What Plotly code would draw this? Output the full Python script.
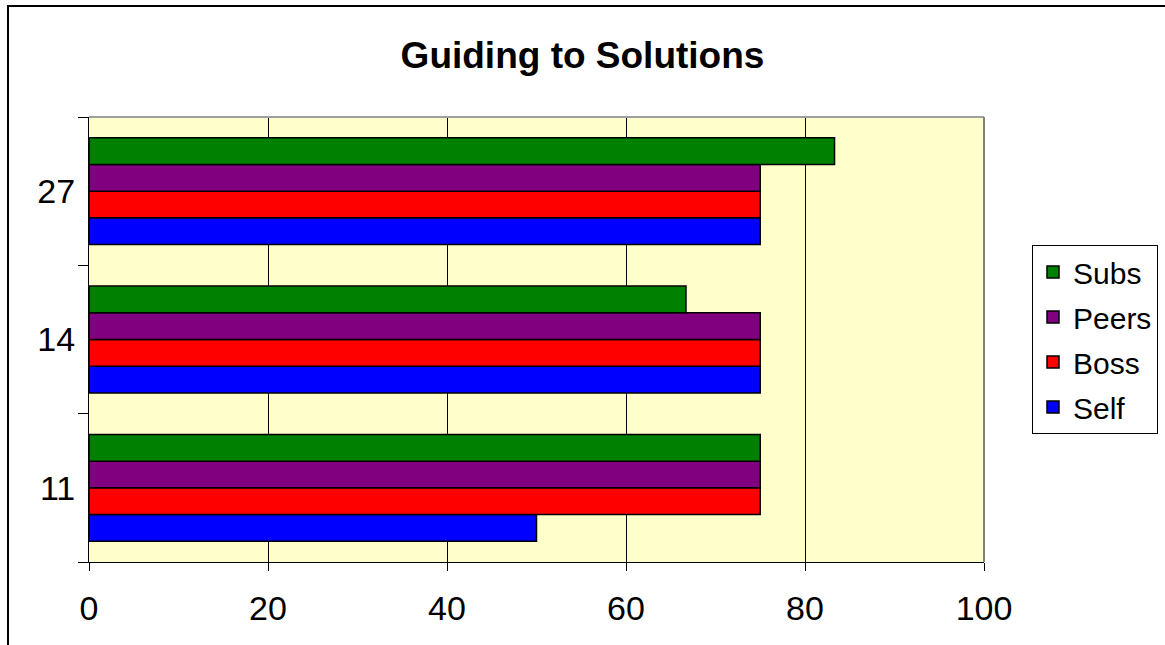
import plotly.graph_objects as go

categories = ["11", "14", "27"]
series_names = ["Self", "Boss", "Peers", "Subs"]
self_vals = [50, 75, 75]
boss_vals = [75, 75, 75]
peers_vals = [75, 75, 75]
subs_vals = [75, 66.7, 83.3]
colors = ["#0000FF", "#FF0000", "#800080", "#008000"]
legend_ranks = [4, 3, 2, 1]
x_ticks = [0, 20, 40, 60, 80, 100]

FONT = "Arial, 'Liberation Sans', sans-serif"

fig = go.Figure()
for name, vals, col, rk in zip(series_names, [self_vals, boss_vals, peers_vals, subs_vals], colors, legend_ranks):
    fig.add_trace(go.Bar(
        y=categories, x=vals, name=name, orientation="h",
        marker=dict(color=col, line=dict(color="black", width=1.5)),
        legendgroup=name, legendrank=rk,
    ))

L, R, T, B = 89, 181, 117, 83
W, H = 1165, 645
pw, ph = W - L - R, H - T - B

fig.update_layout(
    width=W, height=H,
    margin=dict(l=L, r=R, t=T, b=B, autoexpand=False),
    paper_bgcolor="white",
    plot_bgcolor="#FFFFCC",
    barmode="group",
    bargap=0.28,
    bargroupgap=0,
    font=dict(family=FONT, color="black"),
    title=dict(text="<b>Guiding to Solutions</b>", x=0.5, xref="container", xanchor="center",
               y=1 - 55 / H, yref="container", yanchor="middle",
               font=dict(size=37, family=FONT, color="black")),
    legend=dict(
        x=(1032 - L) / pw, xanchor="left",
        y=(H - B - 245) / ph, yanchor="top",
        traceorder="grouped", tracegroupgap=3,
        bordercolor="black", borderwidth=1, bgcolor="white",
        font=dict(size=30, family=FONT, color="black"),
        itemwidth=30,
    ),
    xaxis=dict(
        range=[0, 100], tickvals=x_ticks, ticktext=[str(v) for v in x_ticks],
        showgrid=True, gridcolor="black", gridwidth=1,
        showline=True, linecolor="black", linewidth=1,
        ticks="outside", ticklen=8, tickcolor="black",
        tickfont=dict(size=34, family=FONT, color="black"),
        ticklabelstandoff=8, zeroline=False, fixedrange=True,
    ),
    yaxis=dict(
        type="category", categoryorder="array", categoryarray=categories,
        showgrid=False, showline=True, linecolor="black", linewidth=1,
        ticks="outside", ticklen=10, tickcolor="black", tickson="boundaries",
        tickfont=dict(size=34, family=FONT, color="black"),
        ticklabelstandoff=6, fixedrange=True,
    ),
    showlegend=True,
)

# plot-area border (gray) on top and right
fig.add_shape(type="line", xref="paper", yref="paper", x0=0, x1=1, y0=1, y1=1,
              line=dict(color="#A0A0A0", width=2), layer="above")
fig.add_shape(type="line", xref="paper", yref="paper", x0=1, x1=1, y0=0, y1=1,
              line=dict(color="#808080", width=2), layer="above")

# outer chart border
fig.add_shape(type="rect", xref="paper", yref="paper",
              x0=(8 - L) / pw, x1=(W + 20 - L) / pw,
              y0=-(B + 20) / ph, y1=(H - B - 6) / ph,
              line=dict(color="black", width=2), fillcolor="rgba(0,0,0,0)", layer="below")

fig.write_html("out.html")
